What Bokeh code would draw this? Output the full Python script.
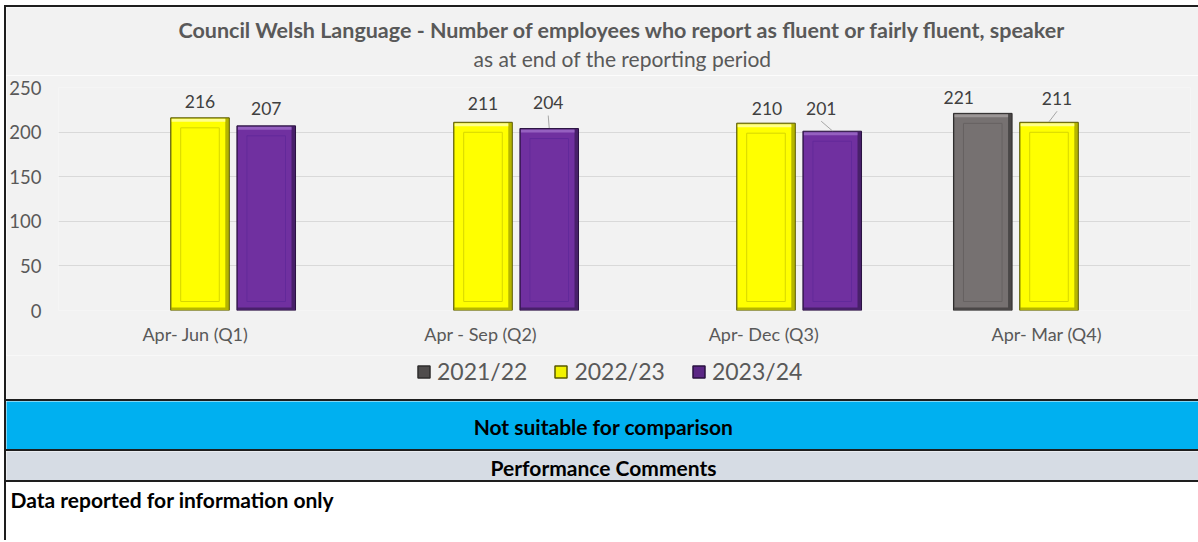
from bokeh.plotting import figure
from bokeh.models import (FactorRange, Range1d, ColumnDataSource, Legend, LegendItem,
                          FixedTicker)
from bokeh.embed import file_html
from bokeh.resources import INLINE
from bokeh.core.properties import value

# ---------------- data ----------------
quarters = ["Apr- Jun   (Q1)", "Apr - Sep  (Q2)", "Apr- Dec  (Q3)", "Apr- Mar  (Q4)"]
series_names = ["2021/22", "2022/23", "2023/24"]
values_2021_22 = [None, None, None, 221]
values_2022_23 = [216, 211, 210, 211]
values_2023_24 = [207, 204, 201, None]
y_tick_values = [0, 50, 100, 150, 200, 250]
y_max = 250

title_text = "Council Welsh Language - Number of employees who report as fluent or fairly fluent, speaker"
subtitle_text = "as at end of the reporting period"
status_text = "Not suitable for comparison"
comments_header = "Performance Comments"
comments_text = "Data reported for information only"

# ---------------- styles ----------------
FONT = "Lato"
LINE = "2px solid #1e1e1e"
W = 1192
TITLE_H = 68
CHART_H = 280
LEG_H = 44
B_LEFT, B_RIGHT, B_TOP, B_BOTTOM = 52, 10, 12, 45
frame_w = W - B_LEFT - B_RIGHT
frame_h = CHART_H - B_TOP - B_BOTTOM
cat_px = frame_w / len(quarters)
ppu = frame_h / y_max

series_style = {
    "2021/22": dict(fill="#767171", shade="#4a4747", edge="#2e2c2c", inner="#676262",
                    light="#9b9696", swatch="#4f4c4c", offset=-0.234),
    "2022/23": dict(fill="#ffff00", shade="#b5b500", edge="#5a5a00", inner="#d6d600",
                    light="#ffff8c", swatch="#f2f200", offset=0.0),
    "2023/24": dict(fill="#7030a0", shade="#48206a", edge="#2a1240", inner="#62299a",
                    light="#9560c0", swatch="#5b2785", offset=0.234),
}
BAR_PX = 58.5
# (series, quarter index): (dx px, px above bar top, leader line)
label_style = {
    ("2022/23", 0): (0, 16, False), ("2023/24", 0): (0, 17, False),
    ("2022/23", 1): (0, 19, False), ("2023/24", 1): (-1, 26, True),
    ("2022/23", 2): (1, 15, False), ("2023/24", 2): (-11, 23, True),
    ("2021/22", 3): (-24, 16, False), ("2022/23", 3): (8, 24, True),
}

series_values = {"2021/22": values_2021_22, "2022/23": values_2022_23, "2023/24": values_2023_24}


def strip(h, bg, styles):
    f = figure(width=W, height=h, x_range=Range1d(0, 1), y_range=Range1d(0, 1),
               x_axis_type=None, y_axis_type=None, toolbar_location=None,
               output_backend="svg", title_location=None,
               min_border_left=0, min_border_right=0, min_border_top=0, min_border_bottom=0,
               background_fill_color=bg, border_fill_color=bg, outline_line_color=None,
               styles=styles)
    f.grid.visible = False
    return f


# ---------------- title strip ----------------
tf = strip(TITLE_H, "#f2f2f2", {"box-sizing": "content-box", "margin-left": "4px",
                                "margin-top": "5px", "border-top": LINE, "border-left": LINE})
tf.text(x=[615 / W], y=[1 - 22 / TITLE_H], text=[title_text], text_font=value(FONT),
        text_font_style="bold", text_font_size="21.5px", text_color="#595959",
        text_align="center", text_baseline="middle")
tf.text(x=[615 / W], y=[1 - 50 / TITLE_H], text=[subtitle_text], text_font=value(FONT),
        text_font_size="21px", text_color="#595959",
        text_align="center", text_baseline="middle")

# ---------------- chart ----------------
p = figure(width=W, height=CHART_H, x_range=FactorRange(*quarters), y_range=Range1d(0, y_max),
           output_backend="svg", toolbar_location=None, title_location=None,
           min_border_left=B_LEFT, min_border_right=B_RIGHT,
           min_border_top=B_TOP, min_border_bottom=B_BOTTOM,
           background_fill_color="#f2f2f2", border_fill_color="#f2f2f2",
           outline_line_color=None,
           styles={"box-sizing": "content-box", "margin-left": "4px", "border-left": LINE})

p.xgrid.grid_line_color = None
p.ygrid.grid_line_color = "#d9d9d9"
p.ygrid.grid_line_width = 1

p.yaxis.ticker = FixedTicker(ticks=y_tick_values)
p.yaxis.axis_line_color = None
p.yaxis.major_tick_line_color = None
p.yaxis.minor_tick_line_color = None
p.yaxis.major_tick_out = 0
p.yaxis.major_tick_in = 0
p.yaxis.major_label_text_font = FONT
p.yaxis.major_label_text_font_size = "18.5px"
p.yaxis.major_label_text_color = "#595959"
p.yaxis.major_label_standoff = 17

p.xaxis.axis_line_color = None
p.xaxis.major_tick_line_color = None
p.xaxis.minor_tick_line_color = None
p.xaxis.major_tick_out = 0
p.xaxis.major_tick_in = 0
p.xaxis.major_label_text_font = FONT
p.xaxis.major_label_text_font_size = "18px"
p.xaxis.major_label_text_color = "#595959"
p.xaxis.major_label_standoff = 12

lab = dict(x=[], y=[], text=[])
lead = dict(x0=[], y0=[], x1=[], y1=[])
for s in series_names:
    st = series_style[s]
    vals = series_values[s]
    d = dict(x=[], top=[], fx=[], ftop=[], itop=[], htop=[], hbot=[])
    for i, v in enumerate(vals):
        if v is None:
            continue
        cx = i + 0.5 + st["offset"]
        d["x"].append(cx)
        d["top"].append(v)
        d["fx"].append(cx - 1.5 / cat_px)
        d["ftop"].append(v - 1.5 / ppu)
        d["itop"].append(v - 10 / ppu)
        d["htop"].append(v - 1 / ppu)
        d["hbot"].append(v - 4 / ppu)
        dx, dy, leader = label_style[(s, i)]
        lx = cx + dx / cat_px
        ly = v + dy / ppu
        lab["x"].append(lx)
        lab["y"].append(ly)
        lab["text"].append(str(v))
        if leader:
            lead["x0"].append(lx)
            lead["y0"].append(v + (dy - 13) / ppu)
            lead["x1"].append(cx)
            lead["y1"].append(v + 0.5 / ppu)
    src = ColumnDataSource(d)
    p.vbar(x="x", top="top", bottom=0, width=BAR_PX / cat_px, source=src,
           fill_color=st["shade"], line_color=st["edge"], line_width=1)
    p.vbar(x="fx", top="ftop", bottom=3 / ppu, width=(BAR_PX - 5) / cat_px, source=src,
           fill_color=st["fill"], line_color=None)
    p.vbar(x="fx", top="htop", bottom="hbot", width=(BAR_PX - 5) / cat_px, source=src,
           fill_color=st["light"], line_color=None)
    p.vbar(x="x", top="itop", bottom=9 / ppu, width=(BAR_PX - 20) / cat_px, source=src,
           fill_color=None, line_color=st["inner"], line_width=1)

p.segment(x0="x0", y0="y0", x1="x1", y1="y1", source=ColumnDataSource(lead),
          line_color="#a6a6a6", line_width=1)
p.text(x="x", y="y", text="text", source=ColumnDataSource(lab),
       text_font=value(FONT), text_font_size="17.5px", text_color="#404040",
       text_align="center", text_baseline="middle")

# ---------------- legend strip ----------------
lg = strip(LEG_H, "#f2f2f2", {"box-sizing": "content-box", "margin-left": "4px",
                              "border-left": LINE})
legend_items = []
for s in series_names:
    st = series_style[s]
    # swatch renderer only: its single point lies outside the strip's range
    r = lg.vbar(x=[5], top=[5], bottom=[4], width=0.1, fill_color=st["swatch"],
                line_color=st["edge"], line_width=1.5)
    legend_items.append(LegendItem(label=s, renderers=[r]))
legend = Legend(items=legend_items, orientation="horizontal", location=(410, 14),
                label_text_font=FONT, label_text_font_size="23px", label_text_color="#595959",
                glyph_width=15, glyph_height=15, label_standoff=6, spacing=26,
                padding=0, margin=0, background_fill_alpha=0, border_line_color=None)
lg.add_layout(legend)


# ---------------- bands ----------------
def band(h, bg, text, x, y, align):
    b = strip(h, bg, {"box-sizing": "content-box", "margin-left": "4px",
                      "border-left": LINE, "border-top": LINE})
    b.text(x=[x], y=[y], text=[text], text_font=value(FONT), text_font_style="bold",
           text_font_size="21px", text_color="black", text_align=align, text_baseline="middle")
    return b


b1 = band(48, "#00b0f0", status_text, 0.5, 0.5, "center")
b2 = band(29, "#d6dce4", comments_header, 0.5, 0.5, "center")
b3 = band(58, "#ffffff", comments_text, 4 / W, 0.72, "left")

open("out.html", "w").write(file_html([tf, p, lg, b1, b2, b3], INLINE))
